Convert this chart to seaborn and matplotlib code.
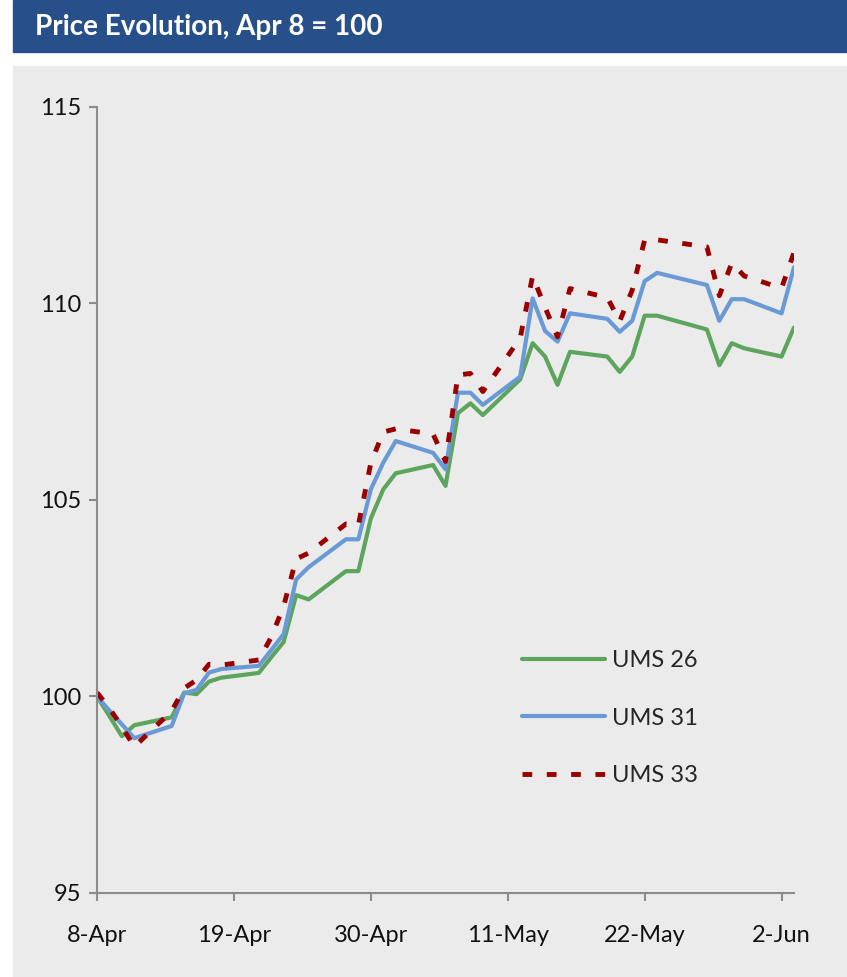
import pandas as pd
import matplotlib.pyplot as plt
from matplotlib.patches import Rectangle
import seaborn as sns

# trading days shown on the chart
dates = ['2008-04-08', '2008-04-09', '2008-04-10', '2008-04-11', '2008-04-14',
         '2008-04-15', '2008-04-16', '2008-04-17', '2008-04-18', '2008-04-21',
         '2008-04-22', '2008-04-23', '2008-04-24', '2008-04-25', '2008-04-28',
         '2008-04-29', '2008-04-30', '2008-05-01', '2008-05-02', '2008-05-05',
         '2008-05-06', '2008-05-07', '2008-05-08', '2008-05-09', '2008-05-12',
         '2008-05-13', '2008-05-14', '2008-05-15', '2008-05-16', '2008-05-19',
         '2008-05-20', '2008-05-21', '2008-05-22', '2008-05-23', '2008-05-27',
         '2008-05-28', '2008-05-29', '2008-05-30', '2008-06-02', '2008-06-03']

ums26 = [100.00, 99.50, 98.99, 99.27, 99.47, 100.10, 100.06, 100.38, 100.48, 100.60,
         101.00, 101.39, 102.58, 102.47, 103.19, 103.19, 104.53, 105.27, 105.68, 105.89,
         105.36, 107.21, 107.46, 107.16, 108.07, 108.99, 108.65, 107.93, 108.77, 108.65,
         108.26, 108.65, 109.69, 109.69, 109.34, 108.43, 108.99, 108.86, 108.65, 109.39]
ums31 = [100.00, 99.64, 99.29, 98.94, 99.25, 100.08, 100.17, 100.61, 100.70, 100.78,
         101.18, 101.59, 102.98, 103.29, 104.00, 104.00, 105.27, 105.95, 106.50, 106.20,
         105.78, 107.73, 107.73, 107.42, 108.14, 110.13, 109.30, 109.03, 109.75, 109.61,
         109.28, 109.56, 110.57, 110.78, 110.47, 109.56, 110.11, 110.11, 109.75, 110.92]
ums33 = [100.10, 99.70, 99.23, 98.72, 99.63, 100.21, 100.42, 100.82, 100.80, 100.93,
         101.51, 102.30, 103.50, 103.65, 104.39, 104.36, 105.94, 106.73, 106.81, 106.68,
         105.98, 108.18, 108.22, 107.76, 109.12, 110.70, 109.90, 109.15, 110.38, 110.15,
         109.55, 110.34, 111.62, 111.62, 111.44, 110.20, 111.03, 110.70, 110.39, 111.30]

series_names = ['UMS 26', 'UMS 31', 'UMS 33']
tick_dates = ['2008-04-08', '2008-04-19', '2008-04-30', '2008-05-11', '2008-05-22', '2008-06-02']
tick_labels = ['8-Apr', '19-Apr', '30-Apr', '11-May', '22-May', '2-Jun']
y_ticks = [95, 100, 105, 110, 115]
title = 'Price Evolution, Apr 8 = 100'

sns.set_theme(style='white')
plt.rcParams['font.family'] = ['Lato', 'DejaVu Sans']

panel_color = '#EBEBEB'
header_color = '#27508A'
spine_color = '#8C8C8C'

fig = plt.figure(figsize=(8.47, 9.77), dpi=100, facecolor='white')
W, H = 847, 977
# header bar and grey panel behind the chart
fig.patches.append(Rectangle((13 / W, 1 - 52 / H), 1 - 13 / W, 52 / H,
                             transform=fig.transFigure, color=header_color, zorder=-10))
fig.patches.append(Rectangle((13 / W, 0), 1 - 13 / W, 1 - 66 / H,
                             transform=fig.transFigure, color=panel_color, zorder=-10))
fig.text(35 / W, 1 - 27 / H, title, color='white', fontsize=20,
         fontweight='bold', va='center', ha='left')

ax = fig.add_axes([97 / W, 1 - 893 / H, (794 - 97) / W, (893 - 107) / H])
ax.set_facecolor(panel_color)

x = pd.to_datetime(dates)
styles = {
    'UMS 26': dict(color='#5DA55D', lw=3.0, linestyle='-'),
    'UMS 31': dict(color='#6A9AD6', lw=3.0, linestyle='-'),
    'UMS 33': dict(color='#9A0000', lw=3.5, linestyle=(0, (2, 3.0))),
}
for name, vals in zip(series_names, [ums26, ums31, ums33]):
    sns.lineplot(x=x, y=vals, ax=ax, label=name, estimator=None, **styles[name])

ax.set_xlim(pd.Timestamp('2008-04-08'), pd.Timestamp('2008-06-03'))
ax.set_ylim(95, 115)
ax.set_xticks(pd.to_datetime(tick_dates))
ax.set_xticklabels(tick_labels)
ax.set_yticks(y_ticks)
ax.set_xlabel('')
ax.set_ylabel('')

for side in ['top', 'right']:
    ax.spines[side].set_visible(False)
for side in ['left', 'bottom']:
    ax.spines[side].set_color(spine_color)
    ax.spines[side].set_linewidth(1.5)
ax.tick_params(axis='both', direction='out', length=6, width=1.5, color=spine_color,
               labelsize=17, labelcolor='#111111', bottom=True, left=True)
ax.tick_params(axis='x', pad=17)
ax.tick_params(axis='y', pad=5)

ax.legend(loc='center left', bbox_to_anchor=(0.61, 0.2226), frameon=False,
          fontsize=17, handlelength=3.5, handletextpad=0.3, labelspacing=1.55,
          borderpad=0, borderaxespad=0)

fig.savefig('out.png', dpi=100, facecolor='white')
